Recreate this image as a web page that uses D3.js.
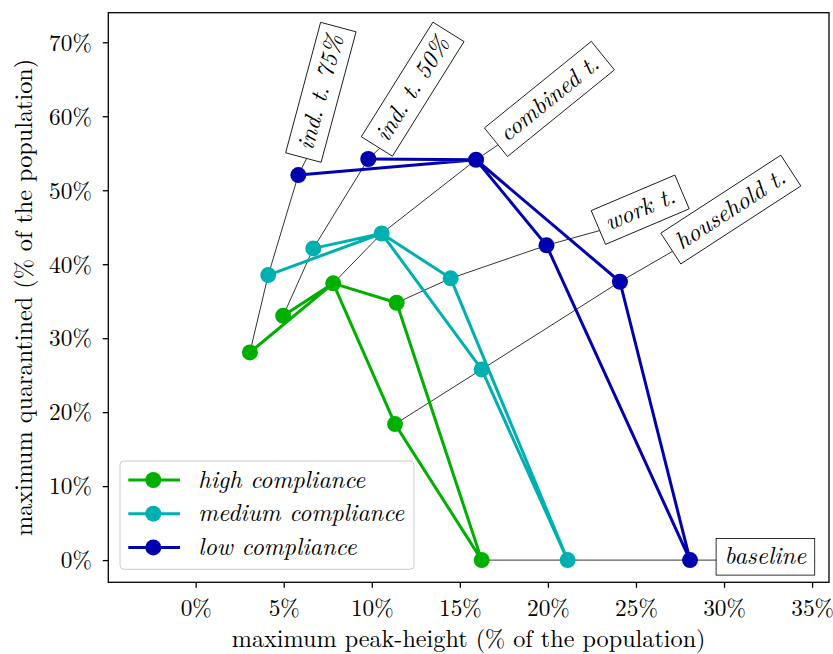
<!DOCTYPE html>
<html><head><meta charset="utf-8">
<script src="https://cdn.jsdelivr.net/npm/d3@7"></script>
<style>body{margin:0;background:#fff} svg{display:block}</style>
</head><body><svg id="c" width="833" height="654"></svg>
<script>
// ---- data ----
const strategies = ["baseline", "household t.", "work t.", "combined t.", "ind. t. 50%", "ind. t. 75%"];
const seriesNames = ["high compliance", "medium compliance", "low compliance"];
const highX = [16.24, 11.32, 11.41, 7.81, 4.97, 3.08];
const highY = [0, 18.39, 34.79, 37.41, 33.03, 28.08];
const medX  = [21.12, 16.24, 14.48, 10.56, 6.68, 4.12];
const medY  = [0, 25.78, 38.09, 44.15, 42.14, 38.53];
const lowX  = [28.07, 24.09, 19.92, 15.92, 9.80, 5.83];
const lowY  = [0, 37.63, 42.55, 54.12, 54.22, 52.05];
const pathOrder = [5, 3, 4, 3, 1, 0, 2, 3];
const labelX = [29.55, 27.08, 22.94, 17.17, 10.45, 6.30];
const labelY = [0, 41.74, 44.55, 56.14, 55.68, 54.30];
const xTicks = [0, 5, 10, 15, 20, 25, 30, 35];
const yTicks = [0, 10, 20, 30, 40, 50, 60, 70];
const xTitle = "maximum peak-height (% of the population)";
const yTitle = "maximum quarantined (% of the population)";

// ---- layout / style ----
const colors = ["#00b000", "#00b0b0", "#0000b0"];
const labelAngle = [0, -33, -23, -39, -58, -75];
const labelExtend = [99, 0, 0, 0, 0, 0];
const FONT = '"Latin Modern Roman", "CMU Serif", "Liberation Serif", serif';
const FS = "23.3px";   // tick labels
const FS2 = "24.2px";  // titles, legend, annotations
const L = 108.3, R = 829, T = 12.7, B = 582.3;

const svg = d3.select("#c");
const x = d3.scaleLinear().domain([-4.96, 35.96]).range([L, R]);
const y = d3.scaleLinear().domain([-3.0, 74.0]).range([B, T]);

const series = [[highX, highY], [medX, medY], [lowX, lowY]];

// strategy connection lines
const thin = svg.append("g");
strategies.forEach((s, i) => {
  const pts = series.map(([xs, ys]) => [x(xs[i]), y(ys[i])]);
  const ax = x(labelX[i]), ay = y(labelY[i]);
  pts.push([ax, ay]);
  if (labelExtend[i] > 0) {
    const a = labelAngle[i] * Math.PI / 180;
    pts.push([ax + labelExtend[i] * Math.cos(a), ay + labelExtend[i] * Math.sin(a)]);
  }
  thin.append("path").attr("d", d3.line()(pts))
    .attr("fill", "none").attr("stroke", "#000").attr("stroke-width", 0.8);
});

// series lines + markers
series.forEach(([xs, ys], k) => {
  const g = svg.append("g");
  const pts = pathOrder.map(i => [x(xs[i]), y(ys[i])]);
  g.append("path").attr("d", d3.line()(pts))
    .attr("fill", "none").attr("stroke", colors[k]).attr("stroke-width", 3)
    .attr("stroke-linejoin", "round").attr("stroke-linecap", "round");
  g.selectAll("circle").data(xs.map((v, i) => i)).join("circle")
    .attr("cx", i => x(xs[i])).attr("cy", i => y(ys[i])).attr("r", 8)
    .attr("fill", colors[k]);
});

// label boxes
strategies.forEach((s, i) => {
  const g = svg.append("g")
    .attr("transform", `translate(${x(labelX[i])},${y(labelY[i])}) rotate(${labelAngle[i]})`);
  const rect = g.append("rect").attr("x", 0).attr("y", -21.7).attr("height", 36.7)
    .attr("fill", "#fff").attr("stroke", "#000").attr("stroke-width", 0.8);
  const t = g.append("text").attr("x", 8.5).attr("y", 3.8).text(s)
    .style("font-family", FONT).style("font-style", "italic").style("font-size", FS2);
  rect.attr("width", t.node().getComputedTextLength() + 17);
});

// axes
const xAxis = svg.append("g").attr("transform", `translate(0,${B})`)
  .call(d3.axisBottom(x).tickValues(xTicks).tickFormat(d => d + "%").tickSize(5.5).tickPadding(4));
const yAxis = svg.append("g").attr("transform", `translate(${L},0)`)
  .call(d3.axisLeft(y).tickValues(yTicks).tickFormat(d => d + "%").tickSize(5.5).tickPadding(4));
[xAxis, yAxis].forEach(a => {
  a.attr("font-family", null).attr("font-size", null);
  a.select(".domain").remove();
  a.selectAll("line").attr("stroke", "#000").attr("stroke-width", 1.3);
  a.selectAll("text").style("font-family", FONT).style("font-size", FS).attr("fill", "#000");
});
xAxis.selectAll("text").attr("dy", null).attr("y", 33.7);
yAxis.selectAll("text").attr("dy", null).attr("x", -16.5).attr("y", 7.8);

svg.append("rect").attr("x", L).attr("y", T).attr("width", R - L).attr("height", B - T)
  .attr("fill", "none").attr("stroke", "#000").attr("stroke-width", 1.3);

// axis titles
svg.append("text").attr("x", (L + R) / 2).attr("y", 647).attr("text-anchor", "middle")
  .style("font-family", FONT).style("font-size", FS2).text(xTitle);
svg.append("text").attr("transform", `translate(32,${(T + B) / 2}) rotate(-90)`)
  .attr("text-anchor", "middle").style("font-family", FONT).style("font-size", FS2).text(yTitle);

// legend
const lg = svg.append("g");
lg.append("rect").attr("x", 120).attr("y", 461).attr("width", 294).attr("height", 108.3).attr("rx", 4)
  .attr("fill", "#fff").attr("fill-opacity", 0.8).attr("stroke", "#cccccc").attr("stroke-width", 1);
seriesNames.forEach((n, k) => {
  const yy = 480 + k * 33.7;
  lg.append("line").attr("x1", 128.3).attr("x2", 180).attr("y1", yy).attr("y2", yy)
    .attr("stroke", colors[k]).attr("stroke-width", 3);
  lg.append("circle").attr("cx", 153.3).attr("cy", yy).attr("r", 8).attr("fill", colors[k]);
  lg.append("text").attr("x", 198.3).attr("y", yy + 7.7).text(n)
    .style("font-family", FONT).style("font-style", "italic").style("font-size", FS2);
});
</script></body></html>
